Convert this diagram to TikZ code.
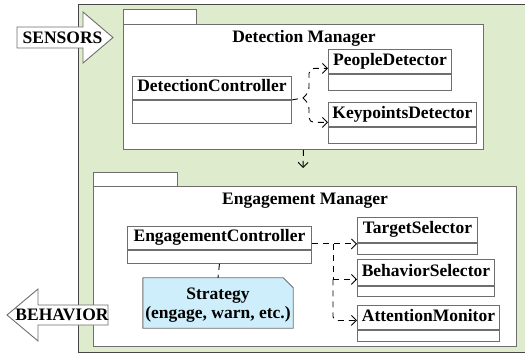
\documentclass[tikz,border=0pt]{standalone}
\usepackage{fontspec}
\setmainfont{Liberation Serif}
\newfontfamily\diagfont{Liberation Serif}
\usetikzlibrary{arrows.meta,calc}

\definecolor{framegreen}{RGB}{222,236,205}
\definecolor{notecyan}{RGB}{205,238,250}
\definecolor{framegray}{RGB}{70,70,70}
\definecolor{boxgray}{RGB}{110,110,110}

\tikzset{
  txt/.style={font=\diagfont\fontsize{17.5}{19.5}\bfseries\selectfont, inner sep=0pt},
  pkg/.style={draw=boxgray, fill=white, line width=0.9pt, inner sep=0pt, anchor=north west},
  clshead/.style={draw=boxgray, fill=white, line width=0.9pt, inner sep=0pt,
    anchor=north west, text height=12pt, text depth=4pt,
    font=\diagfont\fontsize{17.5}{19.5}\bfseries\selectfont},
  clsbody/.style={draw=boxgray, fill=white, line width=0.9pt, inner sep=0pt, anchor=north},
  blockarrow/.style={draw=boxgray, fill=white, line width=0.9pt},
  dep/.style={draw=black, line width=0.9pt, dash pattern=on 6pt off 5pt,
    -{Straight Barb[length=5pt,width=10pt]}},
  link/.style={draw=black, line width=0.9pt, dash pattern=on 6pt off 5pt}
}

\begin{document}
\begin{tikzpicture}[x=1pt,y=-1pt]
\useasboundingbox (0,0) rectangle (525,358);

% outer system frame
\draw[fill=framegreen, draw=framegray, line width=0.9pt] (78,4) rectangle (527,352);

% ---------- Detection Manager package ----------
\node[pkg, minimum width=73pt, minimum height=15pt] (dtab) at (123,9) {};
\node[pkg, minimum width=360pt, minimum height=125pt] (dm) at (123,24) {};
\node[txt, anchor=base] (dmt) at (304,43) {Detection Manager};

\node[clshead, minimum width=159pt, minimum height=23pt] (dc) at (132,76) {DetectionController};
\node[clsbody, minimum width=159pt, minimum height=23pt] (dcb) at (dc.south) {};

\node[clshead, minimum width=123pt, minimum height=24pt] (pd) at (328,49) {PeopleDetector};
\node[clsbody, minimum width=123pt, minimum height=16pt] (pdb) at (pd.south) {};

\node[clshead, minimum width=148pt, minimum height=24pt] (kd) at (328,102) {KeypointsDetector};
\node[clsbody, minimum width=148pt, minimum height=16pt] (kdb) at (kd.south) {};

\coordinate (dj) at (303,98);
\coordinate (pda) at ($(pd.west)+(0,7)$);
\coordinate (kda) at ($(kd.west)+(0,8)$);
\draw[link] (dc.south east) -- (dj);
\draw[dep, rounded corners=5pt] (dj) -- (309,92) |- (pda);
\draw[dep, rounded corners=5pt] (dj) -- (309,104) |- (kda);

% dependency between the two packages
\coordinate (dmend) at (303,168);
\draw[dep] (dm.south) -- (dmend);

% ---------- Engagement Manager package ----------
\node[pkg, minimum width=84pt, minimum height=14pt] (etab) at (93,172) {};
\node[pkg, minimum width=423pt, minimum height=160pt] (em) at (93,186) {};
\node[txt, anchor=base] (emt) at (305,205) {Engagement Manager};

\node[clshead, minimum width=184pt, minimum height=23pt] (ec) at (127,226) {EngagementController};
\node[clsbody, minimum width=184pt, minimum height=13pt] (ecb) at (ec.south) {};

\node[clshead, minimum width=120pt, minimum height=25pt] (ts) at (357,217) {TargetSelector};
\node[clsbody, minimum width=120pt, minimum height=11pt] (tsb) at (ts.south) {};

\node[clshead, minimum width=137pt, minimum height=26pt] (bs) at (357,259) {BehaviorSelector};
\node[clsbody, minimum width=137pt, minimum height=10pt] (bsb) at (bs.south) {};

\node[clshead, minimum width=142pt, minimum height=24pt] (am) at (357,305) {AttentionMonitor};
\node[clsbody, minimum width=142pt, minimum height=11pt] (amb) at (am.south) {};

\coordinate (eout) at ($(ec.east)+(0,6)$);
\coordinate (ebr) at (333,244);
\coordinate (bsa) at ($(bs.west)+(0,7)$);
\coordinate (ama) at ($(am.west)+(0,3)$);
\draw[dep] (eout) -- (eout -| ts.west);
\draw[link] (ebr) -- (ebr |- bsa);
\draw[dep] (ebr |- bsa) -- (bsa);
\draw[dep, rounded corners=4pt] (ebr |- bsa) |- (ama);

% strategy note with folded corner
\node[txt, align=center, minimum width=150pt, minimum height=50pt] (st) at (218,303) {};
\draw[fill=notecyan, draw=boxgray, line width=0.9pt]
  (st.north west) -- ($(st.north east)+(-10,0)$) -- ($(st.north east)+(0,10)$)
  -- (st.south east) -- (st.south west) -- cycle;
\node[txt, align=center] (stt) at (218,305) {Strategy\\(engage, warn, etc.)};
\draw[link] (ecb.south) -- (st.north);

% ---------- input / output block arrows ----------
\draw[blockarrow] (17,27) -- (83,27) -- (83,12) -- (113,37.5) -- (83,63) -- (83,48) -- (17,48) -- cycle;
\node[txt, anchor=base] (sensors) at (62.5,43.1) {SENSORS};

\draw[blockarrow] (108,305) -- (38,305) -- (38,289) -- (7,315) -- (38,341) -- (38,325) -- (108,325) -- cycle;
\node[txt, anchor=base] (behavior) at (62,320.6) {BEHAVIOR};
\end{tikzpicture}
\end{document}
